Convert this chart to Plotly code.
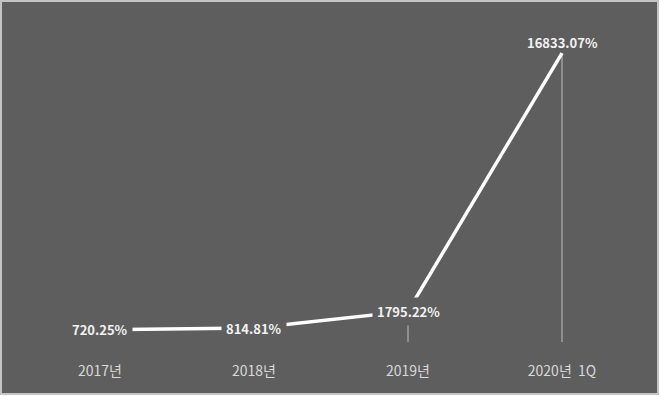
import plotly.graph_objects as go

categories = ["2017년", "2018년", "2019년", "2020년  1Q"]
values = [720.25, 814.81, 1795.22, 16833.07]
value_labels = ["720.25%", "814.81%", "1795.22%", "16833.07%"]

W, H = 660, 396
L, R, T, B = 23, 21, 33, 54
pw, ph = W - L - R, H - T - B
BG = "#5e5e5e"

fig = go.Figure()
fig.add_trace(go.Scatter(
    x=categories, y=values, mode="lines",
    line=dict(color="white", width=3.5),
    error_y=dict(type="data", symmetric=False, array=[0] * len(values),
                 arrayminus=values, color="rgba(255,255,255,0.6)",
                 thickness=1, width=0),
    hoverinfo="skip", showlegend=False,
))

for i, (c, v, lab) in enumerate(zip(categories, values, value_labels)):
    last = i == len(values) - 1
    fig.add_annotation(
        x=c, y=v, text=f"<b>{lab}</b>", showarrow=False,
        yshift=11 if last else 0,
        font=dict(family="Noto Sans CJK KR", size=13, color="#f2f2f2"),
        bgcolor=None if last else BG, borderpad=4,
    )

# chart area background with border (pixel coordinates -> paper coords)
def px_x(px):
    return (px - L) / pw

def px_y(py):
    return (H - B - py) / ph

fig.add_shape(type="rect", xref="paper", yref="paper",
              x0=px_x(1), x1=px_x(658), y0=px_y(394), y1=px_y(1),
              fillcolor=BG, line=dict(color="#c4c4c4", width=2), layer="below")

fig.update_layout(
    width=W, height=H,
    margin=dict(l=L, r=R, t=T, b=B),
    paper_bgcolor="white", plot_bgcolor="rgba(0,0,0,0)",
    xaxis=dict(type="category", range=[-0.5, 3.5], showgrid=False,
               zeroline=False, showline=False, ticks="",
               ticklabelstandoff=19,
               tickfont=dict(family="Noto Sans CJK KR", size=14, color="#d9d9d9")),
    yaxis=dict(range=[0, 18000], visible=False, showgrid=False, zeroline=False),
)

fig.write_html("out.html")
